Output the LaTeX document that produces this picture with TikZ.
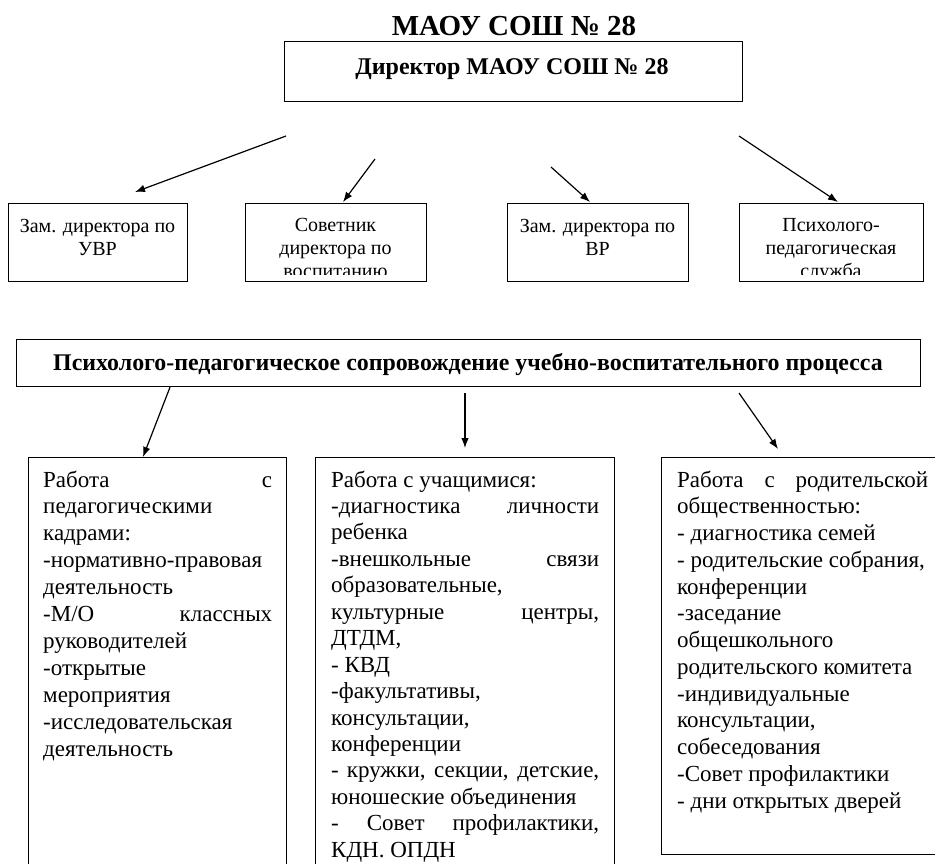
\documentclass[tikz,border=0pt]{standalone}
\usepackage{fontspec}
\setmainfont{Liberation Serif}
\usetikzlibrary{arrows.meta}
\tikzset{
  box/.style={draw, line width=1.2pt, inner sep=0pt, anchor=north west},
  arr/.style={line width=1.2pt, -{Latex[length=10pt,width=7.5pt]}},
  txt/.style={inner sep=0pt, anchor=base west},
  ctxt/.style={inner sep=0pt, anchor=base},
}
\newcommand{\jl}[1]{\makebox[\linewidth][s]{#1}}
\begin{document}
\begin{tikzpicture}[x=1pt,y=-1pt]
\useasboundingbox (0,0) rectangle (935,863);
\clip (0,0) rectangle (935,863);

% title
\node[ctxt, font=\fontsize{29}{32}\selectfont\bfseries] (title) at (514,35) {МАОУ СОШ № 28};

% director
\node[box, minimum width=458pt, minimum height=60pt] (dir) at (284,41) {};
\node[ctxt, font=\fontsize{24}{27}\selectfont\bfseries] (dirt) at (512,74) {Директор МАОУ СОШ № 28};

% second row
\node[box, minimum width=179pt, minimum height=78pt] (b1) at (8,203) {};
\node[box, minimum width=181pt, minimum height=78pt] (b2) at (245,203) {};
\node[box, minimum width=181pt, minimum height=78pt] (b3) at (507,203) {};
\node[box, minimum width=184pt, minimum height=78pt] (b4) at (739,203) {};

\node[ctxt] (b1t) at (97.5,232) {\parbox[t]{175pt}{\centering\fontsize{20}{23}\selectfont Зам. директора по\\УВР}};
\begin{scope}
  \clip (245,203) rectangle (426,274);
  \node[ctxt] (b2t) at (335.5,231) {\parbox[t]{175pt}{\centering\fontsize{20}{23}\selectfont Советник\\директора по\\воспитанию}};
\end{scope}
\node[ctxt] (b3t) at (597.5,232) {\parbox[t]{175pt}{\centering\fontsize{20}{23}\selectfont Зам. директора по\\ВР}};
\begin{scope}
  \clip (739,203) rectangle (923,274);
  \node[ctxt] (b4t) at (831,231) {\parbox[t]{178pt}{\centering\fontsize{20}{23}\selectfont Психолого-\\педагогическая\\служба}};
\end{scope}

% arrows from director
\coordinate (t1) at (286,136);
\coordinate (t2) at (375,159);
\coordinate (t3) at (551,167);
\coordinate (t4) at (739,136);
\draw[arr] (t1) -- ([xshift=127pt,yshift=11pt]b1.north west);
\draw[arr] (t2) -- ([xshift=98pt,yshift=1pt]b2.north west);
\draw[arr] (t3) -- ([xshift=83pt,yshift=1pt]b3.north west);
\draw[arr] (t4) -- ([xshift=99pt,yshift=1pt]b4.north west);

% middle box
\node[box, minimum width=904pt, minimum height=47pt] (mid) at (16,339) {};
\node[ctxt, font=\fontsize{23.9}{26}\selectfont\bfseries] (midt) at (468,370) {Психолого-педагогическое сопровождение учебно-воспитательного процесса};

% bottom boxes
\node[box, minimum width=258pt, minimum height=440pt] (ba) at (28,457) {};
\node[box, minimum width=299pt, minimum height=440pt] (bb) at (315,457) {};
\node[box, minimum width=290pt, minimum height=397pt] (bc) at (661,457) {};

\coordinate (m2) at (465,393);
\coordinate (m3) at (739,393);
\draw[arr] ([xshift=154pt]mid.south west) -- ([xshift=115pt]ba.north west);
\draw[arr] (m2) -- ([xshift=150pt,yshift=9pt]bb.north west);
\draw[arr] (m3) -- ([xshift=117pt,yshift=8pt]bc.north west);

\node[txt] (bat) at (43,487) {\parbox[t]{229pt}{\fontsize{23}{26.9}\selectfont
\jl{Работа с}\\
педагогическими\\
кадрами:\\
\jl{-нормативно-правовая}\\
деятельность\\
\jl{-М/О классных}\\
руководителей\\
-открытые\\
мероприятия\\
-исследовательская\\
деятельность}};

\node[txt] (bbt) at (331,487) {\parbox[t]{268pt}{\fontsize{23}{26.45}\selectfont
Работа с учащимися:\\
\jl{-диагностика личности}\\
ребенка\\
\jl{-внешкольные связи}\\
образовательные,\\
\jl{культурные центры,}\\
ДТДМ,\\
- КВД\\
-факультативы,\\
консультации,\\
конференции\\
\jl{- кружки, секции, детские,}\\
юношеские объединения\\
\jl{- Совет профилактики,}\\
КДН. ОПДН}};

\node[txt] (bct) at (677,487) {\parbox[t]{251pt}{\fontsize{23}{26.75}\selectfont
\jl{Работа с родительской}\\
общественностью:\\
- диагностика семей\\
- родительские собрания,\\
конференции\\
-заседание\\
общешкольного\\
родительского комитета\\
-индивидуальные\\
консультации,\\
собеседования\\
-Совет профилактики\\
- дни открытых дверей}};
\end{tikzpicture}
\end{document}
